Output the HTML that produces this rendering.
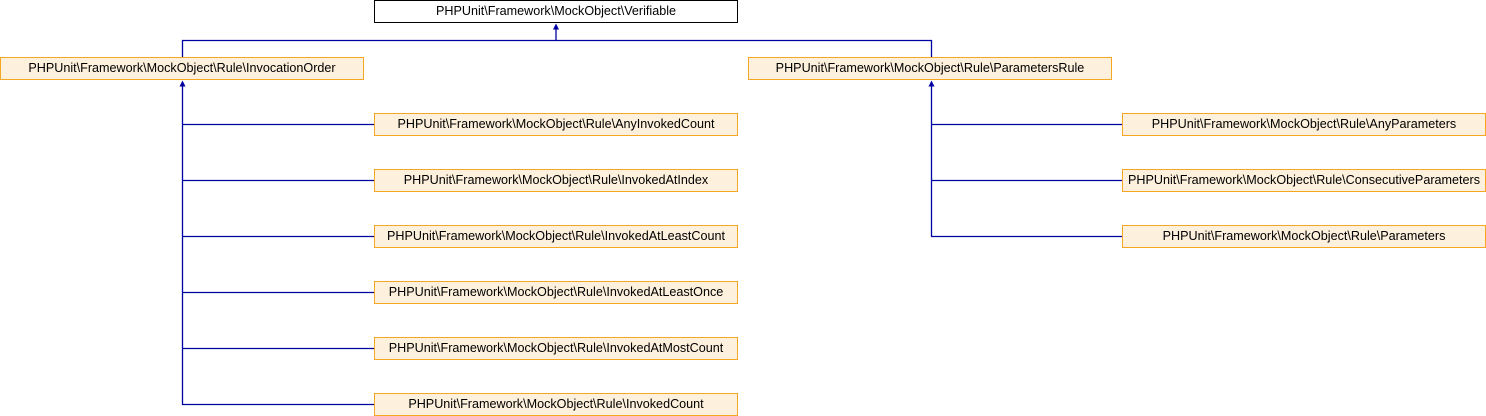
<!DOCTYPE html>
<html><head><style>
body{margin:0;width:1486px;height:416px;background:#fff;position:relative;overflow:hidden;font-family:"Liberation Sans",Arial,sans-serif;}
.b{position:absolute;box-sizing:border-box;width:364px;height:23px;background:#fdf0dc;border:1px solid #f5a623;font-size:12.6px;line-height:21px;text-align:center;color:#000;white-space:nowrap;}
.k{background:#fff;border-color:#000;}
svg{position:absolute;left:0;top:0}
</style></head><body>
<svg width="1486" height="416">
<g stroke="#0000a0" stroke-width="1.3" fill="none">
<path d="M556 29V40.5M182.5 57V40.5H931.5V57"/>
<path d="M182.5 86V404.5H374M182.5 124.5H374M182.5 180.5H374M182.5 236.5H374M182.5 292.5H374M182.5 348.5H374"/>
<path d="M931.5 86V236.5H1122M931.5 124.5H1122M931.5 180.5H1122"/>
</g>
<g fill="#0000a0">
<path d="M556 23.5l-3 6h6z"/>
<path d="M182.5 80.5l-3 6h6z"/>
<path d="M931.5 80.5l-3 6h6z"/>
</g>
</svg>
<div class="b k" style="left:374px;top:0px">PHPUnit\Framework\MockObject\Verifiable</div>
<div class="b" style="left:0;top:57px">PHPUnit\Framework\MockObject\Rule\InvocationOrder</div>
<div class="b" style="left:748px;top:57px">PHPUnit\Framework\MockObject\Rule\ParametersRule</div>
<div class="b" style="left:374px;top:113px">PHPUnit\Framework\MockObject\Rule\AnyInvokedCount</div>
<div class="b" style="left:374px;top:169px">PHPUnit\Framework\MockObject\Rule\InvokedAtIndex</div>
<div class="b" style="left:374px;top:225px">PHPUnit\Framework\MockObject\Rule\InvokedAtLeastCount</div>
<div class="b" style="left:374px;top:281px">PHPUnit\Framework\MockObject\Rule\InvokedAtLeastOnce</div>
<div class="b" style="left:374px;top:337px">PHPUnit\Framework\MockObject\Rule\InvokedAtMostCount</div>
<div class="b" style="left:374px;top:393px">PHPUnit\Framework\MockObject\Rule\InvokedCount</div>
<div class="b" style="left:1122px;top:113px">PHPUnit\Framework\MockObject\Rule\AnyParameters</div>
<div class="b" style="left:1122px;top:169px">PHPUnit\Framework\MockObject\Rule\ConsecutiveParameters</div>
<div class="b" style="left:1122px;top:225px">PHPUnit\Framework\MockObject\Rule\Parameters</div>
</body></html>
